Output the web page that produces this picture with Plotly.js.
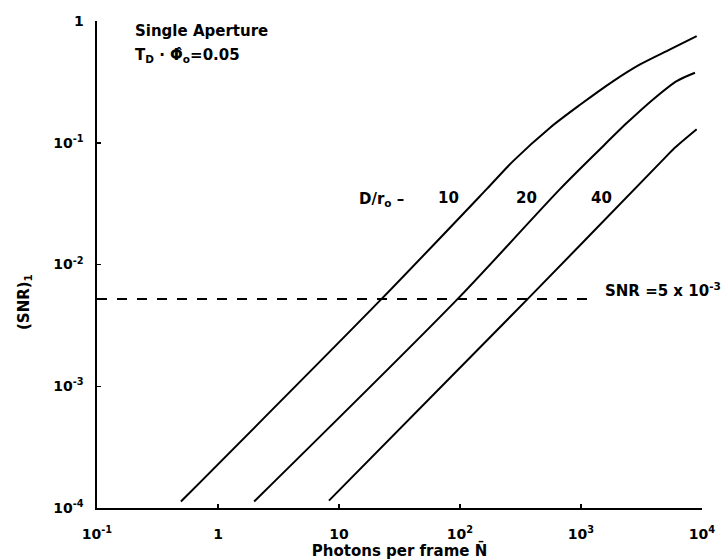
<!DOCTYPE html>
<html>
<head>
<meta charset="utf-8">
<script src="https://cdn.plot.ly/plotly-3.0.1.min.js"></script>
<style>html,body{margin:0;padding:0;background:#fff;}#chart{width:725px;height:560px;}</style>
</head>
<body>
<div id="chart"></div>
<script>
// D/r0 = 10
const n10   = [0.494, 22.6, 166, 276, 555, 982, 1849, 3076, 5445, 9036];
const snr10 = [1.13e-4, 5.24e-3, 0.0416, 0.071, 0.133, 0.205, 0.321, 0.44, 0.585, 0.752];
// D/r0 = 20
const n20   = [1.99, 96.2, 670, 1435, 2388, 3962, 6180, 8750];
const snr20 = [1.13e-4, 5.24e-3, 0.0416, 0.0885, 0.145, 0.228, 0.321, 0.376];
// D/r0 = 40
const n40   = [8.26, 365, 4667, 5794, 9036];
const snr40 = [1.15e-4, 5.24e-3, 0.071, 0.0885, 0.129];
// threshold SNR = 5e-3 (dashed)
const nThresh   = [0.1, 1355];
const snrThresh = [5.2e-3, 5.2e-3];
// curve labels
const ratioLabels = ['10', '20', '40'];
// ticks
const xTickVals = [0.1, 1, 10, 100, 1000, 10000];
const xTickText = ['10<sup>-1</sup>', '1', '10', '10<sup>2</sup>', '10<sup>3</sup>', '10<sup>4</sup>'];
const yTickVals = [1e-4, 1e-3, 1e-2, 1e-1, 1];
const yTickText = ['10<sup>-4</sup>', '10<sup>-3</sup>', '10<sup>-2</sup>', '10<sup>-1</sup>', '1'];

const lineStyle = {color: '#000', width: 2, shape: 'spline', smoothing: 0.8};
const traces = [
  {x: n10, y: snr10, mode: 'lines', line: lineStyle, name: 'D/r0=10'},
  {x: n20, y: snr20, mode: 'lines', line: lineStyle, name: 'D/r0=20'},
  {x: n40, y: snr40, mode: 'lines', line: lineStyle, name: 'D/r0=40'},
  {x: nThresh, y: snrThresh, mode: 'lines', line: {color: '#000', width: 2, dash: '10px,10px'}, name: 'SNR threshold'}
];

const labelX = [0.5818, 0.7107, 0.8347];
const annotations = [
  {text: 'Single Aperture', xref: 'paper', yref: 'paper', x: 0.0595, y: 0.9795, xanchor: 'left', yanchor: 'middle', showarrow: false},
  {text: 'T<sub>D</sub> · Φ̂<sub>o</sub>=0.05', xref: 'paper', yref: 'paper', x: 0.0595, y: 0.93, xanchor: 'left', yanchor: 'middle', showarrow: false},
  {text: 'D/r<sub>o</sub> –', xref: 'paper', yref: 'paper', x: 0.4298, y: 0.634, xanchor: 'left', yanchor: 'middle', showarrow: false},
  {text: 'SNR =5 x 10<sup>-3</sup>', xref: 'paper', yref: 'paper', x: 1.0347, y: 0.447, xanchor: 'right', yanchor: 'middle', showarrow: false},
  {text: '(SNR)<sub>1</sub>', xref: 'paper', yref: 'paper', x: -0.119, y: 0.423, xanchor: 'center', yanchor: 'middle', textangle: -90, showarrow: false}
];
ratioLabels.forEach((t, i) => annotations.push({text: t, xref: 'paper', yref: 'paper', x: labelX[i], y: 0.6366, xanchor: 'center', yanchor: 'middle', showarrow: false}));

const layout = {
  width: 725, height: 560,
  margin: {l: 97, r: 23, t: 21, b: 52},
  paper_bgcolor: '#fff', plot_bgcolor: '#fff',
  showlegend: false,
  font: {family: 'DejaVu Sans', size: 15, color: '#000', weight: 'bold'},
  xaxis: {
    type: 'log', range: [-1, 4],
    tickmode: 'array', tickvals: xTickVals, ticktext: xTickText,
    ticks: 'inside', ticklen: 4, tickwidth: 1.5, tickcolor: '#000',
    showline: true, linewidth: 2, linecolor: '#000',
    showgrid: false, zeroline: false,
    tickfont: {size: 14, weight: 'bold'},
    ticklabelstandoff: 12,
    title: {text: 'Photons per frame N\u0304', font: {size: 15, weight: 'bold'}, standoff: 4}
  },
  yaxis: {
    type: 'log', range: [-4, 0],
    tickmode: 'array', tickvals: yTickVals, ticktext: yTickText,
    ticks: 'inside', ticklen: 4, tickwidth: 1.5, tickcolor: '#000',
    showline: true, linewidth: 2.5, linecolor: '#000',
    showgrid: false, zeroline: false,
    tickfont: {size: 14, weight: 'bold'},
    ticklabelstandoff: 8
  },
  annotations: annotations
};

Plotly.newPlot('chart', traces, layout, {displayModeBar: false, staticPlot: true});
</script>
</body>
</html>
